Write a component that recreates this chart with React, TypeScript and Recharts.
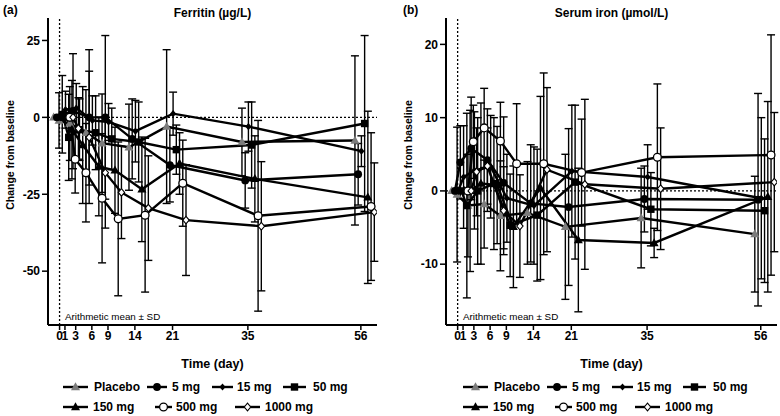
import React from 'react';
import { ComposedChart, Line, XAxis, YAxis, ErrorBar, ReferenceLine } from 'recharts';

// Study days and axis ticks
const days = [0, 1, 3, 6, 9, 14, 21, 35, 56];
const dayTicks = [0, 1, 3, 6, 9, 14, 21, 35, 56];
const groups = ['Placebo', '5 mg', '15 mg', '50 mg', '150 mg', '500 mg', '1000 mg'];

// Ferritin (µg/L): change from baseline, arithmetic mean per group
const ferritinPlacebo = [0, -1, -2, -5, -8.4, -9.7, -3, -8, -7.5];
const ferritin5 = [0, 1, 2, 0, 0, -7, -15.5, -20.5, -18.5];
const ferritin15 = [0, 2.5, 3, -1, -1.5, -4.5, 1.2, -3, -11];
const ferritin50 = [0, -6.5, -4, -5, -7, -8, -10.5, -9, -2];
const ferritin150 = [0, -4, -9, -16, -17.2, -23.4, -15, -20, -26];
const ferritin500 = [0, -13.6, -18, -26.3, -33, -31.8, -21.4, -32, -29];
const ferritin1000 = [0, -3.6, -6.5, -18, -24.4, -29.5, -33.4, -35.4, -30.8];

// Ferritin: standard deviations
const ferritinPlaceboSd = [0, 9, 12, 14, 16, 14, 25, 11, 27.5];
const ferritin5Sd = [0, 12.6, 18.7, 22, 26.6, 13, 12, 9, 10];
const ferritin15Sd = [0, 6, 8, 8, 6, 10, 7, 8, 5];
const ferritin50Sd = [0, 14, 10, 12, 10, 13, 8, 14, 28.6];
const ferritin150Sd = [0, 16, 19, 16, 14, 17, 10, 14, 28];
const ferritin500Sd = [0, 11, 16, 21, 25, 25, 14, 31, 24];
const ferritin1000Sd = [0, 10, 21.5, 18, 15, 17, 18, 21, 16];

// Serum iron (µmol/L): change from baseline, arithmetic mean per group
const ironPlacebo = [0, -0.5, -2, -1.8, -3.4, -3, -4.9, -3.7, -5.9];
const iron5 = [0, 3.9, 5.8, 4.2, 1.1, -1.7, -2.2, -1.1, -1.2];
const iron15 = [0, 1.9, 2.8, 3.3, -1.0, -2, 2.7, 1.9, -1.0];
const iron50 = [0, -2, 0, 1.0, -4.7, -3.3, 1.2, -2.5, -2.7];
const iron150 = [0, 0, 1, 0.8, -4.9, 0.4, -6.7, -7.1, -0.8];
const iron500 = [0, 6.7, 8.6, 6.8, 3.7, 3.7, 2.5, 4.6, 4.9];
const iron1000 = [0, 2.6, 3.4, -2.7, -4.8, 2.9, 0.9, 0.3, 1.2];

// Serum iron: standard deviations
const ironPlaceboSd = [0, 9.2, 7, 6, 7.5, 7, 9.9, 6.8, 7.9];
const iron5Sd = [0, 5, 7, 7, 9, 8, 10.7, 4.5, 14.5];
const iron15Sd = [0, 7, 8, 7, 6, 8, 9, 4.4, 11];
const iron50Sd = [0, 12.6, 10, 9, 7, 9, 10.5, 5, 9.8];
const iron150Sd = [0, 11, 11, 8, 8.3, 12.5, 9.8, 2, 13];
const iron500Sd = [0, 5, 5.4, 5.3, 8.2, 12.4, 7.3, 10, 16.4];
const iron1000Sd = [0, 6, 5.2, 6, 7, 11.2, 11.6, 8.3, 9.5];

const FONT = '"Liberation Sans", Arial, Helvetica, sans-serif';

type Kind = 'grayTriangle' | 'disc' | 'smallDiamond' | 'square' | 'triangle' | 'ring' | 'openDiamond';

// Marker shape and horizontal dodge (in days) for each dose group
const groupStyle: { kind: Kind; shift: number }[] = [
  { kind: 'grayTriangle', shift: -1.1 },
  { kind: 'disc', shift: -0.5 },
  { kind: 'smallDiamond', shift: 0.1 },
  { kind: 'square', shift: 0.7 },
  { kind: 'triangle', shift: 1.3 },
  { kind: 'ring', shift: 1.9 },
  { kind: 'openDiamond', shift: 2.5 },
];

// Legend placement: row, line start, line end, text start
const legendSlots = [
  [0, 63, 88, 94],
  [0, 147, 167, 172],
  [0, 212, 233, 237],
  [0, 283, 306, 313],
  [1, 63, 88, 93],
  [1, 155, 172, 176],
  [1, 235, 260, 265],
];

function Marker({ kind, cx, cy }: { kind: Kind; cx: number; cy: number }) {
  if (cx == null || cy == null || Number.isNaN(cx) || Number.isNaN(cy)) return null;
  switch (kind) {
    case 'grayTriangle':
      return <polygon points={`${cx},${cy - 4.8} ${cx + 4.5},${cy + 3.2} ${cx - 4.5},${cy + 3.2}`} fill="#7c7c7c" />;
    case 'triangle':
      return <polygon points={`${cx},${cy - 4.8} ${cx + 4.5},${cy + 3.2} ${cx - 4.5},${cy + 3.2}`} fill="#000" />;
    case 'disc':
      return <circle cx={cx} cy={cy} r={3.9} fill="#000" />;
    case 'smallDiamond':
      return <polygon points={`${cx},${cy - 3.6} ${cx + 3.1},${cy} ${cx},${cy + 3.6} ${cx - 3.1},${cy}`} fill="#000" />;
    case 'square':
      return <rect x={cx - 3.7} y={cy - 3.7} width={7.4} height={7.4} fill="#000" />;
    case 'ring':
      return <circle cx={cx} cy={cy} r={3.9} fill="#fff" stroke="#000" strokeWidth={1.3} />;
    case 'openDiamond':
      return (
        <polygon
          points={`${cx},${cy - 3.8} ${cx + 3.2},${cy} ${cx},${cy + 3.8} ${cx - 3.2},${cy}`}
          fill="#fff"
          stroke="#000"
          strokeWidth={1.1}
        />
      );
    default:
      return null;
  }
}

type Row = { x: number; y: number; sd: number };

function buildRows(means: number[], sds: number[], shift: number): Row[] {
  return days.map((d, i) => ({ x: d + shift, y: means[i], sd: sds[i] }));
}

const ferritinSeries = [
  [ferritinPlacebo, ferritinPlaceboSd],
  [ferritin5, ferritin5Sd],
  [ferritin15, ferritin15Sd],
  [ferritin50, ferritin50Sd],
  [ferritin150, ferritin150Sd],
  [ferritin500, ferritin500Sd],
  [ferritin1000, ferritin1000Sd],
].map(([m, s], i) => buildRows(m, s, groupStyle[i].shift));

const ironSeries = [
  [ironPlacebo, ironPlaceboSd],
  [iron5, iron5Sd],
  [iron15, iron15Sd],
  [iron50, iron50Sd],
  [iron150, iron150Sd],
  [iron500, iron500Sd],
  [iron1000, iron1000Sd],
].map(([m, s], i) => buildRows(m, s, groupStyle[i].shift));

type PanelProps = {
  left: number;
  tag: string;
  title: string;
  series: Row[][];
  yDomain: [number, number];
  yTicks: number[];
  yAxisWidth: number;
  rightMargin: number;
  legendShift: number;
};

function Panel({ left, tag, title, series, yDomain, yTicks, yAxisWidth, rightMargin, legendShift }: PanelProps) {
  const plotLeft = yAxisWidth;
  const plotRight = 390 - rightMargin;
  const plotCenter = (plotLeft + plotRight) / 2;
  const tickStyle = { fill: '#000', fontSize: 12, fontWeight: 700, fontFamily: FONT };
  return (
    <div style={{ position: 'absolute', left, top: 0, width: 390, height: 416 }}>
      <ComposedChart width={390} height={345} margin={{ top: 18, right: rightMargin, bottom: 0, left: 0 }}>
        <XAxis
          type="number"
          dataKey="x"
          domain={[-2.15, 59]}
          ticks={dayTicks}
          interval={0}
          allowDataOverflow
          height={20}
          axisLine={{ stroke: '#000', strokeWidth: 2 }}
          tickLine={{ stroke: '#000', strokeWidth: 1.5 }}
          tickSize={5}
          tickMargin={1}
          tick={tickStyle}
        />
        <YAxis
          type="number"
          dataKey="y"
          domain={yDomain}
          ticks={yTicks}
          interval={0}
          allowDataOverflow
          width={yAxisWidth}
          axisLine={{ stroke: '#000', strokeWidth: 2 }}
          tickLine={{ stroke: '#000', strokeWidth: 1.5 }}
          tickSize={6}
          tickMargin={2}
          tick={tickStyle}
        />
        <ReferenceLine x={0} stroke="#000" strokeWidth={1.3} strokeDasharray="2 2" />
        <ReferenceLine y={0} stroke="#000" strokeWidth={1.3} strokeDasharray="2 2" />
        {series.map((rows, i) => (
          <Line
            key={`sd-${groups[i]}`}
            data={rows}
            dataKey="y"
            stroke="none"
            dot={false}
            activeDot={false}
            legendType="none"
            isAnimationActive={false}
          >
            <ErrorBar dataKey="sd" direction="y" width={4} stroke="#000" strokeWidth={1.4} />
          </Line>
        ))}
        {series.map((rows, i) => (
          <Line
            key={`mean-${groups[i]}`}
            data={rows}
            dataKey="y"
            name={groups[i]}
            stroke="#000"
            strokeWidth={2.4}
            dot={(p: any) => <Marker key={`${groups[i]}-${p.index}`} kind={groupStyle[i].kind} cx={p.cx} cy={p.cy} />}
            activeDot={false}
            isAnimationActive={false}
          />
        ))}
      </ComposedChart>
      <svg
        width={390}
        height={416}
        style={{ position: 'absolute', left: 0, top: 0, pointerEvents: 'none' }}
        fontFamily={FONT}
      >
        <text x={tag === '(a)' ? 3 : 13} y={14} fontSize={12} fontWeight={700} fill="#000">
          {tag}
        </text>
        <text x={plotCenter} y={17} fontSize={12} fontWeight={700} textAnchor="middle" fill="#000">
          {title}
        </text>
        <text
          x={0}
          y={0}
          transform={`translate(${plotLeft - 38}, 155) rotate(-90)`}
          fontSize={10.5}
          fontWeight={700}
          textAnchor="middle"
          dominantBaseline="central"
          fill="#000"
        >
          Change from baseline
        </text>
        <text x={plotLeft + 17} y={319.5} fontSize={9.8} fill="#000">
          Arithmetic mean ± SD
        </text>
        <text x={plotCenter} y={367.5} fontSize={12.5} fontWeight={700} textAnchor="middle" fill="#000">
          Time (day)
        </text>
        {legendSlots.map(([row, x1, x2, tx], i) => {
          const y = row === 0 ? 387 : 407;
          return (
            <g key={`lg-${groups[i]}`}>
              <line x1={x1 + legendShift} x2={x2 + legendShift} y1={y} y2={y} stroke="#000" strokeWidth={2.4} />
              <Marker kind={groupStyle[i].kind} cx={(x1 + x2) / 2 + legendShift} cy={y} />
              <text x={tx + legendShift} y={y + 4.3} fontSize={12} fontWeight={700} fill="#000">
                {groups[i]}
              </text>
            </g>
          );
        })}
      </svg>
    </div>
  );
}

export default function App() {
  return (
    <div style={{ position: 'absolute', left: 0, top: 0, width: 780, height: 416, background: '#fff' }}>
      <Panel
        left={0}
        tag="(a)"
        title="Ferritin (µg/L)"
        series={ferritinSeries}
        yDomain={[-67.5, 32.3]}
        yTicks={[-50, -25, 0, 25]}
        yAxisWidth={48}
        rightMargin={13}
        legendShift={0}
      />
      <Panel
        left={390}
        tag="(b)"
        title="Serum iron (µmol/L)"
        series={ironSeries}
        yDomain={[-18.3, 23.6]}
        yTicks={[-10, 0, 10, 20]}
        yAxisWidth={56}
        rightMargin={3}
        legendShift={10}
      />
    </div>
  );
}
